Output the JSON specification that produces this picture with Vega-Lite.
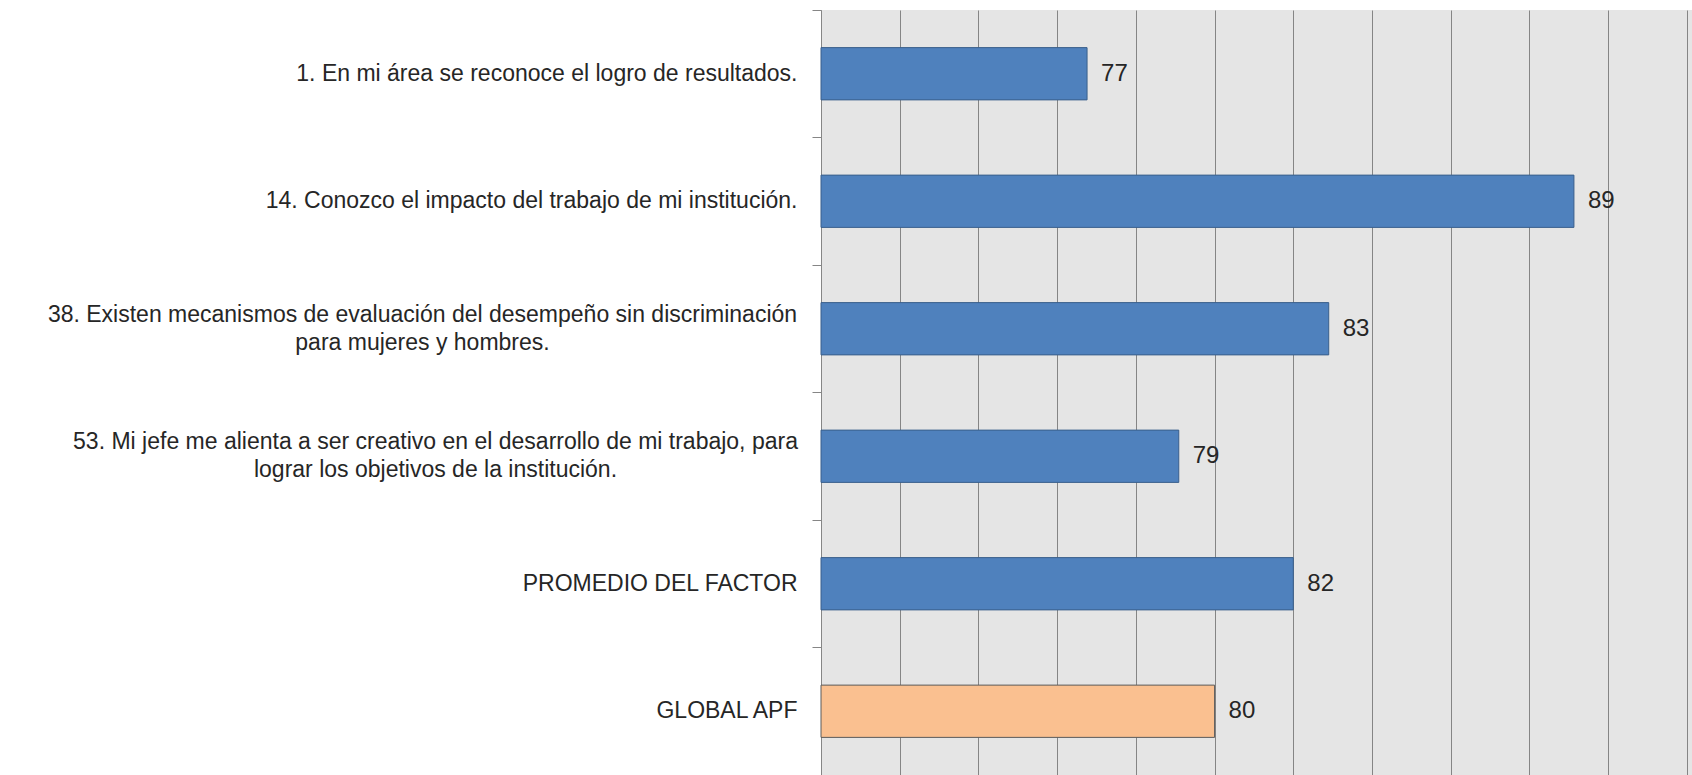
{
  "$schema": "https://vega.github.io/schema/vega-lite/v6.json",
  "autosize": {"type": "none"},
  "padding": {"left": 821, "top": 10, "right": 0, "bottom": 0},
  "width": 871,
  "height": 765,
  "background": "#ffffff",
  "config": {
    "view": {"fill": "#e5e5e5", "stroke": null},
    "font": "Liberation Sans"
  },
  "data": {
    "values": [
      {"pregunta": "1. En mi área se reconoce el logro de resultados.", "valor": 76.76, "tipo": "item"},
      {"pregunta": "14. Conozco el impacto del trabajo de mi institución.", "valor": 89.13, "tipo": "item"},
      {"pregunta": "38. Existen mecanismos de evaluación del desempeño sin discriminación|para mujeres y hombres.", "valor": 82.9, "tipo": "item"},
      {"pregunta": "53. Mi jefe me alienta a ser creativo en el desarrollo de mi trabajo, para|lograr los objetivos de la institución.", "valor": 79.09, "tipo": "item"},
      {"pregunta": "PROMEDIO DEL FACTOR", "valor": 82.0, "tipo": "item"},
      {"pregunta": "GLOBAL APF", "valor": 80.0, "tipo": "global"}
    ]
  },
  "encoding": {
    "y": {
      "field": "pregunta",
      "type": "nominal",
      "sort": null,
      "title": null,
      "scale": {"paddingInner": 0, "paddingOuter": 0},
      "axis": {
        "labelExpr": "split(datum.label, '|')",
        "labelFont": "Liberation Sans",
        "labelFontSize": 23,
        "labelColor": "#262626",
        "labelLineHeight": 28,
        "labelLimit": 900,
        "labelAlign": {
          "condition": {"test": "indexof(datum.value, '|') >= 0", "value": "center"},
          "value": "right"
        },
        "labelPadding": {
          "condition": [
            {"test": "indexof(datum.value, '38.') == 0", "value": 390},
            {"test": "indexof(datum.value, '53.') == 0", "value": 377}
          ],
          "value": 15
        },
        "labelOffset": {
          "condition": {"test": "indexof(datum.value, '|') >= 0", "value": -14},
          "value": 0
        },
        "tickSize": 9,
        "tickColor": "#868686",
        "domainColor": "#868686",
        "bandPosition": 0,
        "grid": false
      }
    },
    "x": {
      "type": "quantitative",
      "field": "valor",
      "scale": {"domain": [70, 92.13], "nice": false, "zero": false},
      "title": null,
      "axis": {
        "values": [70, 72, 74, 76, 78, 80, 82, 84, 86, 88, 90, 92],
        "labels": false,
        "ticks": false,
        "domain": false,
        "grid": true,
        "gridColor": "#858585",
        "gridWidth": 1
      }
    }
  },
  "layer": [
    {
      "mark": {"type": "bar", "height": {"band": 0.41}, "strokeWidth": 1},
      "encoding": {
        "x2": {"datum": 70},
        "fill": {
          "field": "tipo",
          "type": "nominal",
          "scale": {"domain": ["item", "global"], "range": ["#4f81bd", "#fac090"]},
          "legend": null
        },
        "stroke": {
          "field": "tipo",
          "type": "nominal",
          "scale": {"domain": ["item", "global"], "range": ["#3a5f8b", "#5a5a5a"]},
          "legend": null
        }
      }
    },
    {
      "mark": {"type": "text", "align": "left", "baseline": "middle", "dx": 14, "fontSize": 24, "font": "Liberation Sans", "color": "#262626"},
      "encoding": {
        "text": {"field": "valor", "type": "quantitative", "format": ".0f"}
      }
    }
  ]
}
